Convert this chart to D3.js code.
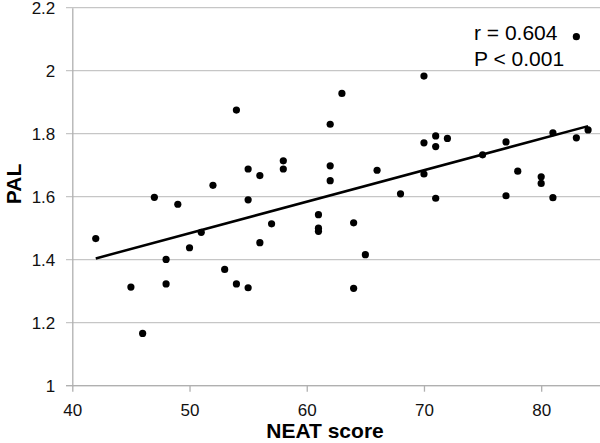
<!DOCTYPE html>
<html>
<head>
<meta charset="utf-8">
<script src="https://cdn.jsdelivr.net/npm/d3@7"></script>
<style>
  html, body { margin: 0; padding: 0; background: #fff; }
  svg { display: block; font-family: Arial, "Liberation Sans", Helvetica, sans-serif; }
</style>
</head>
<body>
<svg id="chart" width="600" height="443"></svg>
<script>
// Data
const neatScore = [42, 45, 46, 47, 48, 48, 49, 50, 51, 52, 53, 54, 54, 55, 55, 55, 56, 56, 57, 58, 58,
  61, 61, 61, 62, 62, 62, 63, 64, 64, 65, 66, 68, 70, 70, 70, 71, 71, 71, 72, 75, 77, 77, 78, 80, 80, 81, 81, 83, 83, 84];
const pal = [1.467, 1.313, 1.166, 1.598, 1.401, 1.323, 1.576, 1.438, 1.487, 1.636, 1.369, 1.875, 1.323, 1.688, 1.590, 1.311, 1.667, 1.454, 1.514, 1.714, 1.688,
  1.543, 1.500, 1.490, 1.830, 1.698, 1.651, 1.928, 1.517, 1.309, 1.416, 1.684, 1.609, 1.983, 1.771, 1.672, 1.793, 1.759, 1.595, 1.785, 1.733, 1.774, 1.603, 1.681, 1.663, 1.642, 1.803, 1.597, 2.108, 1.787, 1.812];
const trendX = [42, 84];
const trendY = [1.404, 1.824];
const xTicks = [40, 50, 60, 70, 80];
const yTicks = [1, 1.2, 1.4, 1.6, 1.8, 2, 2.2];
const xTitle = "NEAT score";
const yTitle = "PAL";
const annotation = ["r = 0.604", "P < 0.001"];

const svg = d3.select("#chart");
const x = d3.scaleLinear().domain([40, 85]).range([72.3, 599.8]);
const y = d3.scaleLinear().domain([1, 2.2]).range([385.7, 7.7]);

// horizontal gridlines
svg.append("g").selectAll("line").data(yTicks).join("line")
  .attr("x1", 66).attr("x2", 600)
  .attr("y1", d => y(d)).attr("y2", d => y(d))
  .attr("stroke", "#c6c6c6").attr("stroke-width", 1.3);

// y axis
const yAxis = svg.append("g").attr("transform", `translate(${x(40)},0)`)
  .call(d3.axisLeft(y).tickValues(yTicks).tickSize(0).tickPadding(17).tickFormat(d3.format("~g")));
yAxis.select(".domain").attr("stroke", "#b0b0b0").attr("stroke-width", 1.3);
yAxis.selectAll("text").attr("font-size", 17).attr("fill", "#111")
  .attr("font-family", "Arial, 'Liberation Sans', sans-serif").attr("dy", "0.36em");

// x axis
const xAxis = svg.append("g").attr("transform", `translate(0,${y(1)})`)
  .call(d3.axisBottom(x).tickValues(xTicks).tickSize(6).tickPadding(12).tickFormat(d3.format("d")));
xAxis.select(".domain").attr("stroke", "#b0b0b0").attr("stroke-width", 1.3).attr("d", `M66,0H600`);
xAxis.selectAll(".tick line").attr("stroke", "#b0b0b0").attr("stroke-width", 1.3);
xAxis.selectAll("text").attr("font-size", 17).attr("fill", "#111")
  .attr("font-family", "Arial, 'Liberation Sans', sans-serif");

// trend line
svg.append("path")
  .datum(trendX.map((v, i) => [v, trendY[i]]))
  .attr("d", d3.line().x(d => x(d[0])).y(d => y(d[1])))
  .attr("stroke", "#000").attr("stroke-width", 2.5).attr("fill", "none");

// points
svg.append("g").selectAll("circle").data(neatScore).join("circle")
  .attr("cx", d => x(d)).attr("cy", (d, i) => y(pal[i]))
  .attr("r", 3.6).attr("fill", "#000");

// annotation
svg.append("g").selectAll("text").data(annotation).join("text")
  .attr("x", 474).attr("y", (d, i) => 40 + i * 26)
  .attr("font-size", 21).attr("fill", "#000")
  .text(d => d);

// axis titles
svg.append("text").attr("x", 325).attr("y", 438)
  .attr("text-anchor", "middle").attr("font-size", 21).attr("font-weight", "bold")
  .text(xTitle);
svg.append("text").attr("transform", "translate(21,184) rotate(-90)")
  .attr("text-anchor", "middle").attr("font-size", 21).attr("font-weight", "bold")
  .text(yTitle);
</script>
</body>
</html>
